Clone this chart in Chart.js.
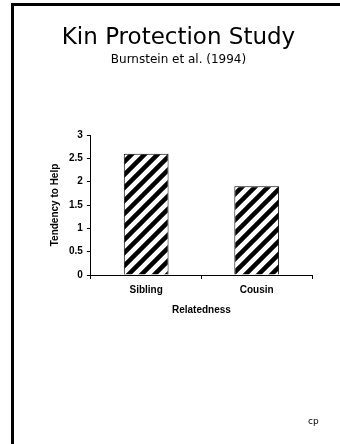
<!DOCTYPE html>
<html>
<head>
<meta charset="utf-8">
<script src="https://cdn.jsdelivr.net/npm/chart.js@4"></script>
<style>
  html, body { margin: 0; padding: 0; background: #fff; }
  #frame {
    position: absolute; left: 11px; top: 3px; right: 0; bottom: 0;
    border-left: 3px solid #000; border-top: 3px solid #000;
  }
  #wrap { position: absolute; left: 0; top: 0; width: 340px; height: 444px; }
  #cp {
    position: absolute; left: 308px; top: 416px;
    font: 9px "DejaVu Sans", sans-serif; color: #000;
  }
</style>
</head>
<body>
<div id="frame"></div>
<div id="wrap"><canvas id="kinChart"></canvas></div>
<div id="cp">cp</div>
<script>
const categories = ['Sibling', 'Cousin'];
const helpValues = [2.6, 1.9];
const yTicks = [0, 0.5, 1, 1.5, 2, 2.5, 3];

// diagonal hatch fill for the bars
function hatch() {
    const s = 13;
    const c = document.createElement('canvas');
    c.width = s; c.height = s;
    const g = c.getContext('2d');
    g.fillStyle = '#fff';
    g.fillRect(0, 0, s, s);
    g.strokeStyle = '#000';
    g.lineWidth = 4.5;
    g.beginPath();
    g.moveTo(-s, 2 * s); g.lineTo(2 * s, -s);
    g.moveTo(-s, s); g.lineTo(s, -s);
    g.moveTo(0, 2 * s); g.lineTo(2 * s, 0);
    g.stroke();
    return g.createPattern(c, 'repeat');
}

const axisFont = { family: '"Liberation Sans", Arial, sans-serif', size: 10, weight: 'bold' };

const data = {
    labels: categories,
    datasets: [{
        label: 'Tendency to Help',
        data: helpValues,
        backgroundColor: hatch(),
        borderColor: '#000',
        borderWidth: 1,
        categoryPercentage: 1,
        barPercentage: 0.405
    }]
};

const config = {
    type: 'bar',
    data: data,
    options: {
        responsive: true,
        maintainAspectRatio: false,
        animation: false,
        layout: { padding: { left: 45, right: 28, top: 24, bottom: 124 } },
        plugins: {
            legend: { display: false },
            tooltip: { enabled: false },
            title: {
                display: true,
                text: 'Kin Protection Study',
                color: '#000',
                font: { family: '"DejaVu Sans", sans-serif', size: 23, weight: 'normal' },
                padding: { top: 0, bottom: 1 }
            },
            subtitle: {
                display: true,
                text: 'Burnstein et al. (1994)',
                color: '#000',
                font: { family: '"DejaVu Sans", sans-serif', size: 12, weight: 'normal' },
                padding: { top: 0, bottom: 68 }
            }
        },
        scales: {
            x: {
                grid: { display: true, drawOnChartArea: false, drawTicks: true, tickLength: 4, color: '#000', offset: true },
                border: { color: '#000', width: 1 },
                ticks: { color: '#000', font: axisFont, padding: 5 },
                title: { display: true, text: 'Relatedness', color: '#000', font: axisFont, padding: { top: 3 } }
            },
            y: {
                min: 0,
                max: 3,
                afterBuildTicks: (axis) => { axis.ticks = yTicks.map(v => ({ value: v })); },
                grid: { display: true, drawOnChartArea: false, drawTicks: true, tickLength: 4, color: '#000' },
                border: { color: '#000', width: 1 },
                ticks: { color: '#000', font: axisFont, padding: 4, callback: (v) => String(v) },
                title: { display: true, text: 'Tendency to Help', color: '#000', font: axisFont, padding: { bottom: 4 } }
            }
        }
    }
};

const kinChart = new Chart(document.getElementById('kinChart'), config);
</script>
</body>
</html>
